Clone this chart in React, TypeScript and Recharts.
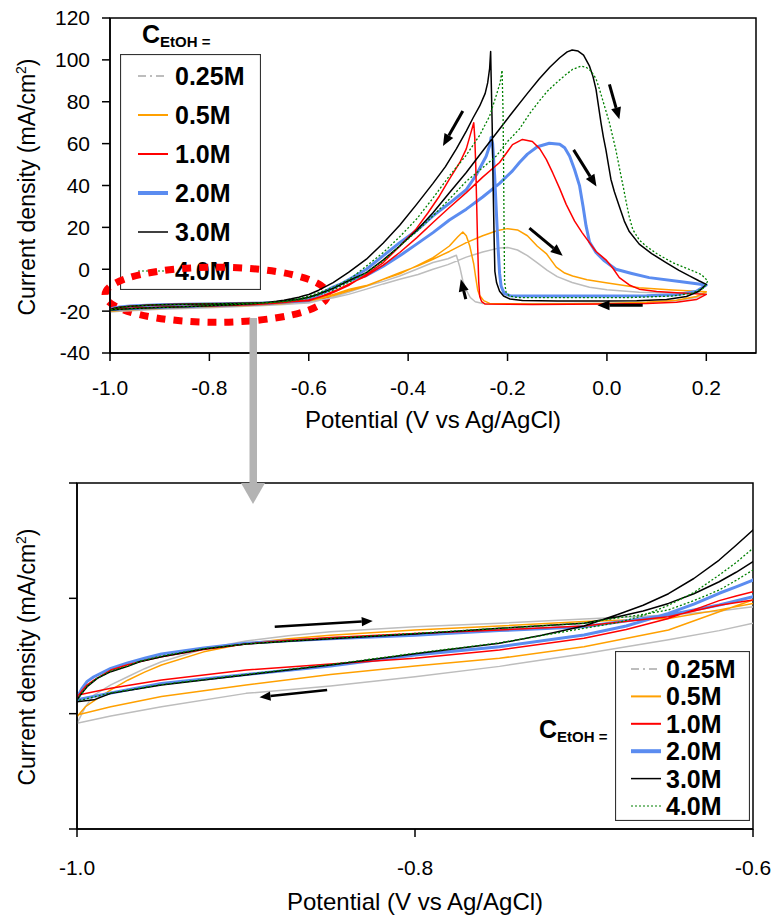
import React from 'react';
import { LineChart, Line, XAxis, YAxis, ReferenceArea, ReferenceLine } from 'recharts';

type Pt = [number, number];

// ethanol concentrations (legend order)
const concentrations = ['0.25M', '0.5M', '1.0M', '2.0M', '3.0M', '4.0M'];

// [potential V vs Ag/AgCl, current density mA/cm2]; forward scan -1.0 -> 0.2, reverse scan 0.2 -> -1.0
const fwd025: Pt[] = [[-1.0, -20.42], [-0.995, -19.7], [-0.99, -19.2], [-0.98, -18.75], [-0.97, -18.4], [-0.96, -18.05], [-0.95, -17.75], [-0.925, -17.2], [-0.9, -16.85], [-0.875, -16.62], [-0.85, -16.45], [-0.8, -16.23], [-0.75, -16.08], [-0.7, -15.9], [-0.65, -15.72], [-0.62, -15.55], [-0.6, -15.36], [-0.55, -13.6], [-0.52, -12.0], [-0.484, -9.5], [-0.45, -7.0], [-0.417, -4.8], [-0.38, -2.5], [-0.35, 0.0], [-0.32, 2.2], [-0.283, 5.8], [-0.25, 8.2], [-0.216, 10.2], [-0.2, 10.4], [-0.18, 9.2], [-0.16, 6.5], [-0.14, 3.0], [-0.12, -0.5], [-0.1, -3.5], [-0.07, -6.3], [-0.035, -8.6], [0.0, -9.8], [0.065, -11.0], [0.13, -11.3], [0.2, -11.5]];
const rev025: Pt[] = [[0.2, -11.5], [0.18, -13.5], [0.14, -15.0], [0.08, -15.8], [0.0, -16.2], [-0.15, -16.5], [-0.25, -16.4], [-0.265, -15.5], [-0.275, -13.5], [-0.283, -10.0], [-0.29, -5.5], [-0.296, 1.0], [-0.303, 6.7], [-0.32, 5.0], [-0.35, 3.2], [-0.383, 0.0], [-0.417, -3.2], [-0.45, -5.8], [-0.484, -8.0], [-0.52, -11.0], [-0.56, -13.8], [-0.6, -16.08], [-0.62, -16.4], [-0.65, -16.8], [-0.7, -17.4], [-0.75, -17.95], [-0.8, -18.4], [-0.85, -18.8], [-0.9, -19.12], [-0.95, -19.7], [-0.98, -20.1], [-1.0, -20.42]];

const fwd05: Pt[] = [[-1.0, -20.13], [-0.995, -19.7], [-0.99, -19.45], [-0.98, -18.97], [-0.97, -18.55], [-0.96, -18.2], [-0.95, -17.89], [-0.925, -17.32], [-0.9, -16.95], [-0.875, -16.75], [-0.85, -16.6], [-0.8, -16.37], [-0.75, -16.2], [-0.7, -16.0], [-0.65, -15.87], [-0.62, -15.5], [-0.6, -15.22], [-0.55, -12.6], [-0.52, -10.4], [-0.484, -8.0], [-0.45, -4.8], [-0.417, -1.6], [-0.38, 1.6], [-0.35, 4.8], [-0.317, 8.5], [-0.283, 12.7], [-0.25, 16.0], [-0.22, 18.5], [-0.2, 19.4], [-0.18, 18.8], [-0.16, 16.0], [-0.14, 11.0], [-0.122, 7.5], [-0.102, 1.0], [-0.085, -1.8], [-0.069, -3.2], [-0.04, -5.0], [-0.002, -6.4], [0.065, -8.8], [0.132, -9.9], [0.2, -10.8]];
const rev05: Pt[] = [[0.2, -10.8], [0.18, -13.0], [0.14, -14.8], [0.08, -15.8], [0.0, -16.3], [-0.15, -16.6], [-0.236, -16.3], [-0.248, -15.0], [-0.256, -12.5], [-0.26, -10.0], [-0.264, -4.0], [-0.268, 2.5], [-0.276, 11.1], [-0.283, 16.0], [-0.29, 17.8], [-0.3, 15.5], [-0.317, 11.1], [-0.35, 5.5], [-0.383, 1.6], [-0.417, -2.2], [-0.45, -4.8], [-0.484, -7.8], [-0.518, -9.5], [-0.55, -12.0], [-0.58, -13.8], [-0.6, -15.07], [-0.62, -15.58], [-0.65, -16.37], [-0.7, -17.1], [-0.75, -17.6], [-0.8, -17.93], [-0.85, -18.3], [-0.9, -18.76], [-0.95, -19.26], [-0.98, -19.7], [-1.0, -20.06]];

const fwd10: Pt[] = [[-1.0, -19.3], [-0.997, -19.0], [-0.994, -18.75], [-0.99, -18.55], [-0.98, -18.11], [-0.97, -17.88], [-0.96, -17.7], [-0.95, -17.53], [-0.925, -17.22], [-0.9, -16.98], [-0.875, -16.82], [-0.85, -16.7], [-0.8, -16.52], [-0.75, -16.37], [-0.7, -16.2], [-0.65, -15.8], [-0.62, -15.3], [-0.6, -15.07], [-0.57, -12.5], [-0.54, -9.5], [-0.51, -6.0], [-0.484, -3.2], [-0.45, 2.0], [-0.417, 8.0], [-0.383, 15.0], [-0.35, 22.3], [-0.317, 29.5], [-0.283, 36.6], [-0.25, 44.0], [-0.216, 51.0], [-0.19, 59.5], [-0.17, 62.0], [-0.15, 61.0], [-0.135, 57.5], [-0.122, 52.5], [-0.109, 46.0], [-0.095, 38.5], [-0.082, 31.0], [-0.065, 23.0], [-0.05, 17.5], [-0.022, 8.5], [-0.002, 4.5], [0.012, 0.5], [0.025, -4.0], [0.045, -7.5], [0.065, -9.5], [0.1, -10.6], [0.14, -11.2], [0.2, -12.0]];
const rev10: Pt[] = [[0.2, -12.0], [0.18, -14.5], [0.14, -15.8], [0.08, -16.4], [0.0, -16.6], [-0.15, -16.8], [-0.245, -16.6], [-0.252, -15.5], [-0.256, -13.0], [-0.258, -6.0], [-0.26, 10.0], [-0.262, 30.0], [-0.264, 50.0], [-0.266, 63.0], [-0.268, 70.0], [-0.274, 65.0], [-0.283, 57.5], [-0.296, 51.0], [-0.317, 43.0], [-0.337, 35.0], [-0.36, 27.0], [-0.383, 19.5], [-0.417, 11.0], [-0.45, 3.2], [-0.484, -2.5], [-0.518, -7.5], [-0.551, -11.1], [-0.58, -13.5], [-0.6, -14.71], [-0.61, -14.9], [-0.62, -15.1], [-0.635, -15.5], [-0.65, -15.87], [-0.675, -16.35], [-0.7, -16.73], [-0.75, -17.24], [-0.8, -17.6], [-0.85, -17.85], [-0.9, -18.11], [-0.95, -18.54], [-0.98, -18.9], [-1.0, -19.2]];

const fwd20: Pt[] = [[-1.0, -19.3], [-0.997, -18.9], [-0.994, -18.6], [-0.99, -18.4], [-0.98, -18.04], [-0.97, -17.8], [-0.96, -17.6], [-0.95, -17.41], [-0.925, -17.15], [-0.9, -16.95], [-0.875, -16.84], [-0.85, -16.75], [-0.8, -16.6], [-0.75, -16.4], [-0.7, -16.23], [-0.65, -15.72], [-0.62, -15.29], [-0.6, -14.93], [-0.575, -11.5], [-0.551, -8.5], [-0.52, -5.5], [-0.484, -3.0], [-0.45, 1.5], [-0.417, 6.4], [-0.383, 12.0], [-0.35, 17.5], [-0.317, 23.5], [-0.283, 28.7], [-0.25, 34.5], [-0.216, 41.0], [-0.19, 47.0], [-0.176, 51.0], [-0.16, 55.0], [-0.14, 58.5], [-0.116, 60.2], [-0.095, 59.7], [-0.085, 58.0], [-0.075, 54.0], [-0.065, 47.5], [-0.055, 39.8], [-0.048, 30.0], [-0.042, 20.7], [-0.035, 13.0], [-0.022, 8.0], [-0.005, 4.0], [0.018, 0.0], [0.05, -2.0], [0.085, -4.0], [0.146, -5.8], [0.2, -7.5]];
const rev20: Pt[] = [[0.2, -7.5], [0.18, -10.5], [0.14, -12.2], [0.08, -12.7], [0.0, -12.8], [-0.15, -12.8], [-0.195, -12.6], [-0.207, -11.5], [-0.213, -8.0], [-0.216, -2.0], [-0.219, 10.0], [-0.222, 25.0], [-0.226, 45.0], [-0.23, 60.0], [-0.233, 63.0], [-0.236, 59.0], [-0.243, 54.0], [-0.263, 45.0], [-0.283, 38.0], [-0.317, 31.5], [-0.35, 25.5], [-0.383, 18.5], [-0.417, 12.7], [-0.45, 6.5], [-0.484, 0.0], [-0.52, -5.0], [-0.55, -9.0], [-0.58, -12.3], [-0.6, -14.21], [-0.61, -14.5], [-0.62, -14.78], [-0.635, -15.25], [-0.65, -15.65], [-0.675, -16.2], [-0.7, -16.59], [-0.75, -17.1], [-0.8, -17.46], [-0.85, -17.93], [-0.9, -18.3], [-0.95, -18.69], [-0.98, -19.1], [-1.0, -19.4]];

const fwd30: Pt[] = [[-1.0, -19.41], [-0.997, -19.1], [-0.994, -18.83], [-0.988, -18.47], [-0.98, -18.18], [-0.97, -17.95], [-0.963, -17.75], [-0.95, -17.53], [-0.925, -17.2], [-0.9, -16.98], [-0.875, -16.86], [-0.85, -16.75], [-0.8, -16.55], [-0.75, -16.3], [-0.7, -16.08], [-0.68, -15.8], [-0.665, -15.55], [-0.65, -15.22], [-0.635, -14.8], [-0.62, -14.28], [-0.61, -13.87], [-0.6, -13.41], [-0.58, -11.8], [-0.55, -9.0], [-0.52, -5.5], [-0.484, -1.6], [-0.45, 4.5], [-0.417, 11.1], [-0.383, 18.5], [-0.35, 27.0], [-0.317, 36.5], [-0.283, 46.2], [-0.25, 56.5], [-0.216, 67.0], [-0.19, 75.0], [-0.16, 84.0], [-0.136, 91.0], [-0.115, 96.5], [-0.095, 101.0], [-0.08, 103.8], [-0.07, 104.7], [-0.058, 104.2], [-0.047, 102.3], [-0.035, 97.0], [-0.028, 92.0], [-0.022, 86.0], [-0.017, 78.0], [-0.012, 70.0], [-0.007, 63.0], [-0.002, 57.0], [0.003, 50.0], [0.008, 43.0], [0.015, 37.0], [0.025, 30.0], [0.035, 23.0], [0.045, 18.0], [0.065, 12.0], [0.09, 7.5], [0.119, 3.2], [0.145, -0.5], [0.166, -3.2], [0.185, -5.5], [0.2, -7.2]];
const rev30: Pt[] = [[0.2, -7.2], [0.185, -10.5], [0.16, -13.0], [0.12, -14.4], [0.06, -15.0], [0.0, -15.2], [-0.1, -15.2], [-0.17, -14.9], [-0.195, -14.2], [-0.208, -12.8], [-0.216, -10.5], [-0.222, -6.5], [-0.2255, -1.0], [-0.227, 15.0], [-0.229, 40.0], [-0.231, 70.0], [-0.233, 92.0], [-0.234, 104.0], [-0.236, 96.0], [-0.24, 89.0], [-0.245, 84.0], [-0.256, 78.0], [-0.27, 72.0], [-0.283, 66.0], [-0.303, 57.5], [-0.325, 49.0], [-0.35, 41.0], [-0.383, 31.0], [-0.417, 21.0], [-0.45, 12.5], [-0.484, 4.8], [-0.52, -1.5], [-0.551, -6.4], [-0.58, -10.0], [-0.6, -12.04], [-0.61, -12.7], [-0.62, -13.34], [-0.635, -14.14], [-0.65, -14.8], [-0.665, -15.3], [-0.68, -15.7], [-0.7, -16.2], [-0.725, -16.6], [-0.75, -16.95], [-0.8, -17.4], [-0.85, -17.89], [-0.9, -18.32], [-0.95, -18.76], [-0.98, -19.12], [-0.99, -19.4], [-1.0, -19.48]];

const fwd40: Pt[] = [[-1.0, -19.4], [-0.997, -19.1], [-0.994, -18.8], [-0.988, -18.45], [-0.98, -18.15], [-0.97, -17.93], [-0.963, -17.73], [-0.95, -17.5], [-0.925, -17.18], [-0.9, -16.98], [-0.875, -16.85], [-0.85, -16.73], [-0.8, -16.52], [-0.75, -16.3], [-0.7, -16.08], [-0.68, -15.85], [-0.665, -15.7], [-0.65, -15.5], [-0.635, -15.1], [-0.62, -14.64], [-0.61, -14.22], [-0.6, -13.77], [-0.58, -12.2], [-0.55, -9.8], [-0.518, -6.0], [-0.484, -1.6], [-0.45, 4.0], [-0.417, 11.1], [-0.383, 18.0], [-0.35, 25.5], [-0.317, 33.5], [-0.283, 42.0], [-0.25, 48.5], [-0.223, 54.0], [-0.2, 61.0], [-0.176, 67.0], [-0.155, 74.5], [-0.136, 80.4], [-0.12, 85.0], [-0.102, 89.0], [-0.085, 92.5], [-0.069, 95.5], [-0.052, 97.0], [-0.042, 96.5], [-0.032, 94.7], [-0.022, 91.0], [-0.015, 86.0], [-0.005, 78.0], [0.005, 70.0], [0.012, 63.0], [0.018, 57.0], [0.023, 51.0], [0.028, 45.0], [0.034, 38.0], [0.039, 31.8], [0.045, 25.0], [0.052, 19.0], [0.065, 14.0], [0.079, 11.0], [0.1, 7.5], [0.132, 3.2], [0.165, 0.0], [0.19, -2.5], [0.203, -5.6]];
const rev40: Pt[] = [[0.203, -5.6], [0.195, -9.0], [0.17, -11.5], [0.13, -12.8], [0.05, -13.5], [-0.1, -13.6], [-0.18, -13.5], [-0.196, -12.8], [-0.203, -11.0], [-0.206, -6.0], [-0.207, 20.0], [-0.208, 50.0], [-0.209, 75.0], [-0.211, 95.0], [-0.215, 89.0], [-0.223, 82.8], [-0.236, 73.2], [-0.256, 64.0], [-0.283, 54.5], [-0.317, 44.6], [-0.35, 34.0], [-0.383, 24.0], [-0.417, 15.5], [-0.45, 8.0], [-0.484, 1.5], [-0.518, -4.8], [-0.55, -8.5], [-0.58, -11.2], [-0.6, -12.83], [-0.61, -13.45], [-0.62, -13.99], [-0.635, -14.75], [-0.65, -15.3], [-0.665, -15.75], [-0.68, -16.05], [-0.7, -16.3], [-0.75, -16.93], [-0.8, -17.38], [-0.85, -17.87], [-0.9, -18.3], [-0.95, -18.74], [-0.98, -19.1], [-1.0, -19.45]];

const forwardScans = [fwd025, fwd05, fwd10, fwd20, fwd30, fwd40];
const reverseScans = [rev025, rev05, rev10, rev20, rev30, rev40];

const topXTicks = [-1.0, -0.8, -0.6, -0.4, -0.2, 0.0, 0.2];
const topYTicks = [-40, -20, 0, 20, 40, 60, 80, 100, 120];
const zoomXTicks = [-1.0, -0.8, -0.6];
const zoomYTicks = [-25, -20, -15, -10];

// scan-direction arrows [x1, y1, x2, y2], head at (x2, y2)
const topArrows: number[][] = [
  [-0.29, 75.6, -0.33, 58.9],
  [0.005, 88.3, 0.025, 71.6],
  [-0.067, 57, -0.021, 39.5],
  [-0.156, 19.6, -0.089, 6.4],
  [-0.284, -14.3, -0.294, -4.8],
  [0.072, -17.2, -0.019, -17.2],
];
const zoomArrows: number[][] = [
  [-0.883, -16.23, -0.825, -15.98],
  [-0.852, -18.97, -0.892, -19.29],
];

const colors = ['#bdbdbd', '#ffa000', '#ff0000', '#5b8cf0', '#000000', '#008000'];
const widths = [1.5, 1.5, 1.5, 3, 1.5, 1.3];
const dashes = [undefined, undefined, undefined, undefined, undefined, '2 2'];
const legendDashes = ['8 4 2 4', undefined, undefined, undefined, undefined, '2 2'];
const legendWidths = [2, 2, 2, 4, 1.5, 1.2];
const drawOrder = [0, 1, 3, 2, 4, 5];

const series = concentrations.map((name, i) => ({
  name,
  points: [...forwardScans[i], ...reverseScans[i]].map(([x, y]) => ({ x, y })),
}));

const FONT = '"Liberation Sans", Arial, sans-serif';
const fmt = (v: number) => v.toFixed(1);

const makeArrow = (w: number, head: number) => (p: any) => {
  const { x1, y1, x2, y2 } = p;
  const dx = x2 - x1;
  const dy = y2 - y1;
  const len = Math.hypot(dx, dy) || 1;
  const ux = dx / len;
  const uy = dy / len;
  const bx = x2 - ux * head;
  const by = y2 - uy * head;
  const hw = head * 0.42;
  return (
    <g>
      <line x1={x1} y1={y1} x2={bx} y2={by} stroke="#000" strokeWidth={w} />
      <polygon
        points={`${x2},${y2} ${bx - uy * hw},${by + ux * hw} ${bx + uy * hw},${by - ux * hw}`}
        fill="#000"
      />
    </g>
  );
};

const Ellipse = (p: any) => (
  <ellipse
    cx={p.x + p.width / 2}
    cy={p.y + p.height / 2}
    rx={p.width / 2}
    ry={p.height / 2}
    fill="none"
    stroke="#ff0000"
    strokeWidth={7}
    strokeDasharray="9 8"
  />
);

function LegendBox({ left, top, width, height, firstRow, rowGap, sx1, sx2, tx }: any) {
  return (
    <svg style={{ position: 'absolute', left, top }} width={width} height={height}>
      <rect x={0.5} y={0.5} width={width - 1} height={height - 1} fill="#fff" stroke="#333" strokeWidth={1.2} />
      {concentrations.map((c, i) => {
        const cy = firstRow + i * rowGap;
        return (
          <g key={c}>
            <line x1={sx1} x2={sx2} y1={cy} y2={cy} stroke={colors[i]} strokeWidth={legendWidths[i]} strokeDasharray={legendDashes[i]} />
            <text x={tx} y={cy + 9} fontSize={25} fontWeight="bold" fontFamily={FONT} fill="#000">{c}</text>
          </g>
        );
      })}
    </svg>
  );
}

const seriesLines = drawOrder.map((i) => (
  <Line
    key={series[i].name}
    data={series[i].points}
    dataKey="y"
    name={series[i].name}
    type="linear"
    stroke={colors[i]}
    strokeWidth={widths[i]}
    strokeDasharray={dashes[i]}
    strokeLinejoin="round"
    dot={false}
    activeDot={false}
    isAnimationActive={false}
  />
));

const axisStyle = { stroke: '#000', strokeWidth: 1.5 };

export default function App() {
  const topArrow = makeArrow(3, 12);
  const zoomArrow = makeArrow(2.5, 11);
  return (
    <div style={{ position: 'absolute', left: 0, top: 0, width: 775, height: 915, background: '#fff', fontFamily: FONT, overflow: 'hidden' }}>
      <LegendBox left={120} top={54} width={141} height={236} firstRow={22} rowGap={39} sx1={18} sx2={48} tx={55} />
      <LegendBox left={615} top={651} width={135} height={170} firstRow={18} rowGap={27.4} sx1={16} sx2={46} tx={51} />

      <div style={{ position: 'absolute', left: 0, top: 0 }}>
        <LineChart width={775} height={440} margin={{ top: 18, right: 19, left: 5, bottom: 57 }}>
          <XAxis
            dataKey="x"
            type="number"
            domain={[-1.0, 0.3]}
            ticks={topXTicks}
            interval={0}
            tickFormatter={fmt}
            height={30}
            tickSize={8}
            tickMargin={19}
            axisLine={axisStyle}
            tickLine={axisStyle}
            tick={{ fill: '#000', fontSize: 21 }}
          />
          <YAxis
            type="number"
            domain={[-40, 120]}
            ticks={topYTicks}
            interval={0}
            width={105}
            tickSize={8}
            tickMargin={12}
            axisLine={axisStyle}
            tickLine={axisStyle}
            tick={{ fill: '#000', fontSize: 21 }}
          />
          <ReferenceArea x1={-1.0} x2={0.3} y1={-40} y2={120} fill="none" stroke="#000" strokeWidth={1.5} />
          {seriesLines}
          {topArrows.map((a, k) => (
            <ReferenceLine key={k} segment={[{ x: a[0], y: a[1] }, { x: a[2], y: a[3] }]} ifOverflow="visible" shape={topArrow} />
          ))}
          <ReferenceArea x1={-1.01} x2={-0.562} y1={-25.3} y2={0.96} ifOverflow="visible" shape={Ellipse} />
        </LineChart>
      </div>

      <div style={{ position: 'absolute', left: 0, top: 460 }}>
        <LineChart width={775} height={455} margin={{ top: 23, right: 22, left: 5, bottom: 56 }}>
          <XAxis
            dataKey="x"
            type="number"
            domain={[-1.0, -0.6]}
            allowDataOverflow
            ticks={zoomXTicks}
            interval={0}
            tickFormatter={fmt}
            height={30}
            tickSize={8}
            tickMargin={23}
            axisLine={axisStyle}
            tickLine={axisStyle}
            tick={{ fill: '#000', fontSize: 21 }}
          />
          <YAxis
            type="number"
            domain={[-25, -10]}
            allowDataOverflow
            ticks={zoomYTicks}
            interval={0}
            width={72}
            tickSize={8}
            tickFormatter={() => ''}
            axisLine={axisStyle}
            tickLine={axisStyle}
          />
          <ReferenceArea x1={-1.0} x2={-0.6} y1={-25} y2={-10} fill="none" stroke="#000" strokeWidth={1.5} />
          {seriesLines}
          {zoomArrows.map((a, k) => (
            <ReferenceLine key={k} segment={[{ x: a[0], y: a[1] }, { x: a[2], y: a[3] }]} ifOverflow="visible" shape={zoomArrow} />
          ))}
        </LineChart>
      </div>

      <svg style={{ position: 'absolute', left: 0, top: 0, pointerEvents: 'none' }} width={775} height={915}>
        <rect x={249.5} y={318} width={7.5} height={168} fill="#b3b3b3" />
        <polygon points="241,483 265,483 253,504" fill="#b3b3b3" />

        <text x={142} y={43} fontSize={25} fontWeight="bold" fontFamily={FONT}>
          C<tspan fontSize={15} dy={4}>EtOH =</tspan>
        </text>
        <text x={539} y={738} fontSize={25} fontWeight="bold" fontFamily={FONT}>
          C<tspan fontSize={15} dy={4}>EtOH =</tspan>
        </text>

        <text x={433} y={428} fontSize={24} textAnchor="middle" fontFamily={FONT}>Potential (V vs Ag/AgCl)</text>
        <text x={415} y={910} fontSize={24} textAnchor="middle" fontFamily={FONT}>Potential (V vs Ag/AgCl)</text>

        <text transform="translate(35,187) rotate(-90)" fontSize={23} textAnchor="middle" fontFamily={FONT}>
          Current density (mA/cm<tspan fontSize={14} dy={-9}>2</tspan><tspan dy={9}>)</tspan>
        </text>
        <text transform="translate(35,657) rotate(-90)" fontSize={23} textAnchor="middle" fontFamily={FONT}>
          Current density (mA/cm<tspan fontSize={14} dy={-9}>2</tspan><tspan dy={9}>)</tspan>
        </text>
      </svg>
    </div>
  );
}
